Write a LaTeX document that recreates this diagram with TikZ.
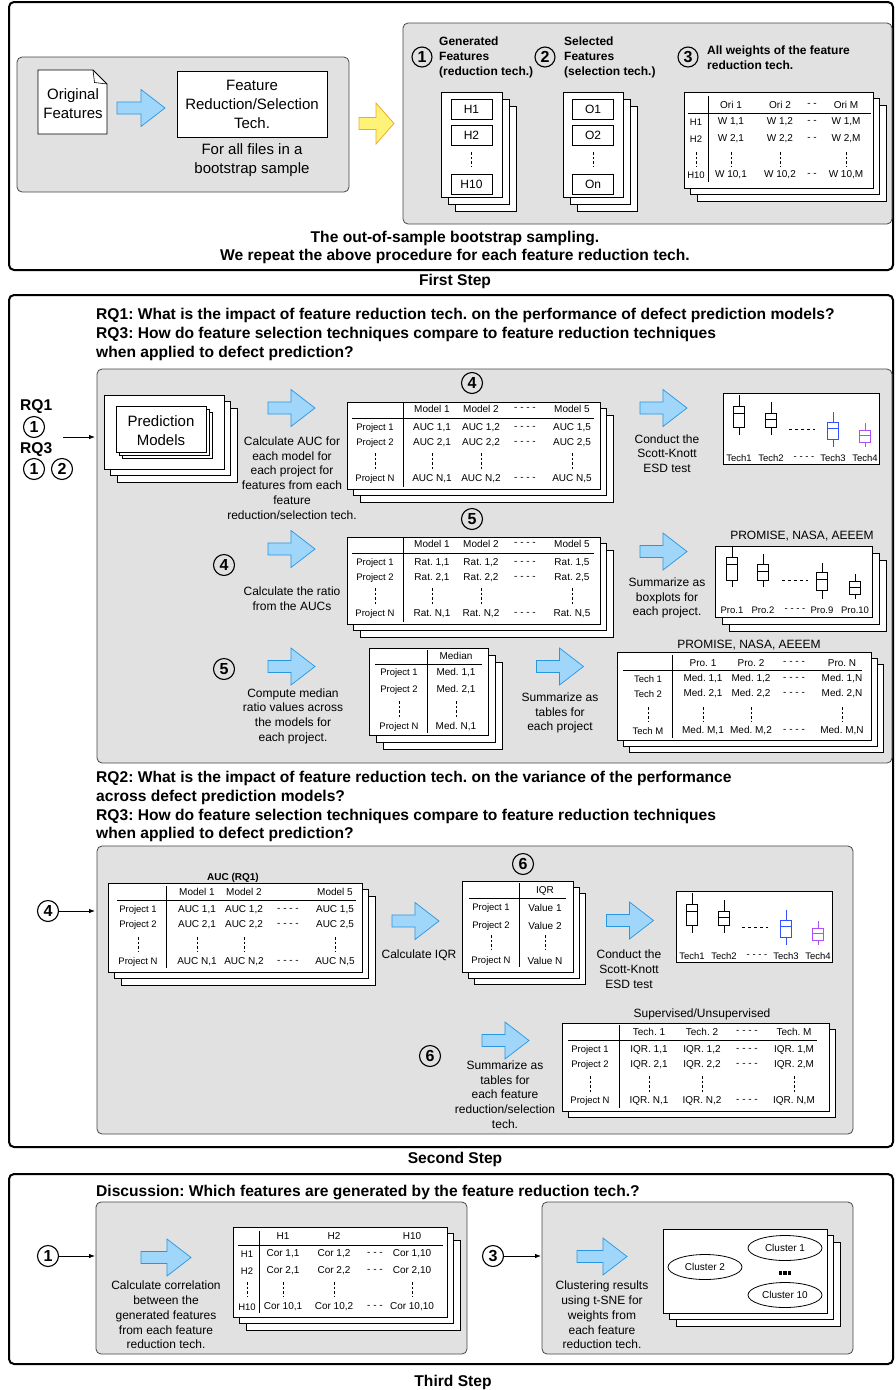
\documentclass[tikz,border=0pt]{standalone}
\usepackage{fontspec}
\setmainfont{Liberation Sans}
\frenchspacing
\usetikzlibrary{arrows.meta,shapes.geometric}
\definecolor{bfill}{RGB}{160,214,250}
\definecolor{bdraw}{RGB}{40,150,225}
\definecolor{yfill}{RGB}{255,242,120}
\definecolor{ydraw}{RGB}{240,170,40}
\definecolor{panel}{RGB}{225,225,225}
\definecolor{pborder}{RGB}{70,70,70}
\definecolor{techblue}{RGB}{50,80,255}
\definecolor{techpurple}{RGB}{175,80,245}
\tikzset{
 outer/.style={draw=black, line width=2pt, rounded corners=5pt},
 panelbox/.style={draw=pborder, fill=panel, line width=0.8pt, rounded corners=5pt},
 wbox/.style={draw=black, fill=white, line width=0.8pt},
 tl/.style={line width=0.8pt},
 vdash/.style={dash pattern=on 2.5pt off 2pt, line width=0.7pt},
 conn/.style={-{Latex[length=6pt,width=4.5pt]}, line width=0.8pt},
 f15/.style={font=\fontsize{15}{19}\selectfont, align=center, inner sep=0pt},
 f12/.style={font=\fontsize{12}{14.7}\selectfont, align=center, inner sep=0pt},
 tt/.style={font=\fontsize{10}{12}\selectfont, inner sep=0pt},
 ts/.style={font=\fontsize{9.5}{11}\selectfont, inner sep=0pt},
 hb/.style={font=\bfseries\fontsize{15.6}{19}\selectfont, inner sep=0pt},
 hbs/.style={font=\bfseries\fontsize{12}{15}\selectfont, inner sep=0pt, align=left},
 circ/.style={circle, draw=black, line width=1.1pt, minimum size=21pt, inner sep=0pt, font=\bfseries\fontsize{16}{16}\selectfont},
 clus/.style={ellipse, draw=black, fill=white, line width=0.8pt, minimum width=74pt, minimum height=25pt, inner sep=0pt, font=\fontsize{10}{12}\selectfont},
}
\newcommand\stackthree[5]{%
 \draw[wbox] (#1+2*#5,#2+2*#5) rectangle (#3+2*#5,#4+2*#5);
 \draw[wbox] (#1+#5,#2+#5) rectangle (#3+#5,#4+#5);
 \draw[wbox] (#1,#2) rectangle (#3,#4);}
\newcommand\stacktwo[5]{%
 \draw[wbox] (#1+#5,#2+#5) rectangle (#3+#5,#4+#5);
 \draw[wbox] (#1,#2) rectangle (#3,#4);}
\newcommand\barrow[3]{%
 \draw[draw=bdraw, fill=bfill, line width=0.7pt, line join=miter]
 (#1-#3/2,#2-6) -- (#1+#3/2-24,#2-6) -- (#1+#3/2-24,#2-18.5) -- (#1+#3/2,#2)
 -- (#1+#3/2-24,#2+18.5) -- (#1+#3/2-24,#2+6) -- (#1-#3/2,#2+6) -- cycle;}
\newcommand\setcols[5]{\def\cL{#1}\def\cA{#2}\def\cB{#3}\def\cD{#4}\def\cC{#5}}
\newcommand\trow[7]{%
 \node[ts] (#1l) at (\cL,#2) {#3};
 \node[tt] (#1a) at (\cA,#2) {#4};
 \node[tt] (#1b) at (\cB,#2) {#5};
 \node[tt] (#1d) at (\cD,#2) {#6};
 \node[tt] (#1c) at (\cC,#2) {#7};}
\newcommand\thead[6]{%
 \node[tt] (#1a) at (\cA,#2) {#3};
 \node[tt] (#1b) at (\cB,#2) {#4};
 \node[tt] (#1d) at (\cD,#2) {#5};
 \node[tt] (#1c) at (\cC,#2) {#6};}
\newcommand\tdots[2]{%
 \draw[vdash] (\cL,#1) -- (\cL,#2);
 \draw[vdash] (\cA,#1) -- (\cA,#2);
 \draw[vdash] (\cB,#1) -- (\cB,#2);
 \draw[vdash] (\cC,#1) -- (\cC,#2);}
\newcommand\bxp[7]{%
 \draw[draw=#7, line width=0.8pt] (#1,#2) -- (#1,#3) (#1,#5) -- (#1,#6)
 (#1-5.5,#3) rectangle (#1+5.5,#5) (#1-5.5,#4) -- (#1+5.5,#4);}
\newcommand\techgroup[1]{%
 \draw[wbox] (723,393) rectangle (879,464);
 \bxp{739}{395}{406}{413}{427}{435}{black}
 \bxp{771}{402}{413}{419}{427}{435}{black}
 \draw[dash pattern=on 3pt off 3pt, line width=0.7pt] (789,429) -- (815,429);
 \bxp{833}{412}{422}{428}{439}{447}{techblue}
 \bxp{865}{423}{430}{435}{442}{447}{techpurple}
 \node[ts] (#1a) at (739,458) {Tech1};
 \node[ts] (#1b) at (771,458) {Tech2};
 \node[ts] (#1d) at (804,458) {- - - -};
 \node[ts] (#1c) at (833,458) {Tech3};
 \node[ts] (#1e) at (865,458) {Tech4};}
\begin{document}
\begin{tikzpicture}[x=1pt,y=-1pt]
\useasboundingbox (0,0) rectangle (895,1390);

% ================= FIRST STEP =================
\draw[outer] (9,2) rectangle (893,270);
\draw[panelbox] (17,57) rectangle (349,192);
\draw[wbox] (38,70) -- (93,70) -- (107,84) -- (107,134) -- (38,134) -- cycle;
\draw[line width=0.6pt] (93,70) -- (94.5,82.5) -- (107,84);
\node[f15] (orig) at (73,103.5) {Original\\Features};
\barrow{141}{108}{48}
\node[wbox,f15,minimum width=150pt,minimum height=66pt] (frs) at (252,104) {Feature\\Reduction/Selection\\Tech.};
\node[f15] (boot) at (252,160.5) {For all files in a\\bootstrap sample};
\draw[draw=ydraw, fill=yfill, line width=0.8pt] (359,117.5) -- (376,117.5) -- (376,103) -- (394,123.5) -- (376,144) -- (376,129.5) -- (359,129.5) -- cycle;

\draw[panelbox] (403,23) rectangle (892,224);
\node[circ, minimum size=20pt] (n1) at (422,57) {1};
\node[circ, minimum size=20pt] (n2) at (545,57) {2};
\node[circ, minimum size=20pt] (n3) at (688,57) {3};
\node[hbs, anchor=west] (gen) at (439,57.5) {Generated\\Features\\(reduction tech.)};
\node[hbs, anchor=west] (sel) at (564,57.5) {Selected\\Features\\(selection tech.)};
\node[hbs, anchor=west] (allw) at (707,57.5) {All weights of the feature\\reduction tech.};

\stackthree{441}{92}{502}{197}{7}
\node[wbox, minimum width=41pt, minimum height=20pt, font=\fontsize{12}{14}\selectfont] (h1) at (471.5,109.5) {H1};
\node[wbox, minimum width=41pt, minimum height=20pt, font=\fontsize{12}{14}\selectfont] (h2) at (471.5,135) {H2};
\node[wbox, minimum width=41pt, minimum height=20pt, font=\fontsize{12}{14}\selectfont] (h10) at (471.5,184) {H10};
\draw[vdash, shorten <=7pt, shorten >=7pt] (h2.south) -- (h10.north);

\stackthree{563}{92}{623}{197}{7}
\node[wbox, minimum width=41pt, minimum height=20pt, font=\fontsize{12}{14}\selectfont] (o1) at (593,109.5) {O1};
\node[wbox, minimum width=41pt, minimum height=20pt, font=\fontsize{12}{14}\selectfont] (o2) at (593,135) {O2};
\node[wbox, minimum width=41pt, minimum height=20pt, font=\fontsize{12}{14}\selectfont] (on) at (593,184) {On};
\draw[vdash, shorten <=7pt, shorten >=7pt] (o2.south) -- (on.north);

\stackthree{684}{92}{873}{188}{6.5}
\draw[tl] (688,113) -- (871,113);
\draw[tl] (708,96) -- (708,182);
\setcols{696}{731}{780}{812}{846}
\thead{wh}{105}{Ori 1}{Ori 2}{- -}{Ori M}
\trow{wr1}{122}{H1}{W 1,1}{W 1,2}{- -}{W 1,M}
\trow{wr2}{139}{H2}{W 2,1}{W 2,2}{- -}{W 2,M}
\tdots{152}{167}
\trow{wrn}{175}{H10}{W 10,1}{W 10,2}{- -}{W 10,M}

\node[hb] (s1a) at (455,238) {The out-of-sample bootstrap sampling.};
\node[hb] (s1b) at (455,256) {We repeat the above procedure for each feature reduction tech.};
\node[hb] (first) at (455,281) {First Step};

% ================= SECOND STEP =================
\draw[outer] (9,295) rectangle (893,1147);
\node[hb, anchor=west] (rq1) at (96,315) {RQ1: What is the impact of feature reduction tech. on the performance of defect prediction models?};
\node[hb, anchor=west] (rq3a) at (96,334) {RQ3: How do feature selection techniques compare to feature reduction techniques};
\node[hb, anchor=west] (rq3b) at (96,353) {when applied to defect prediction?};

\draw[panelbox] (97,369) rectangle (892,763);
\node[hb, anchor=west] (lrq1) at (20,407) {RQ1};
\node[circ] (c1a) at (34,427) {1};
\node[hb, anchor=west] (lrq3) at (20,450) {RQ3};
\node[circ] (c1b) at (34,469) {1};
\node[circ] (c2b) at (62,469) {2};
\coordinate (rqs) at (63,437);
\coordinate (rqe) at (95,437);
\draw[conn] (rqs) -- (rqe);

\stackthree{104}{395}{224}{469}{6.5}
\stackthree{116}{406}{206}{452}{3}
\node[f15] (pm) at (161,430.5) {Prediction\\Models};
\barrow{291.5}{408}{47}
\node[f12] (calcauc) at (292,478) {Calculate AUC for\\each model for\\each project for\\features from each\\feature\\reduction/selection tech.};

\node[circ] (c4) at (472,383) {4};
\stackthree{347}{402}{600}{489}{6.5}
\draw[tl] (352,418) -- (594,418);
\draw[tl] (403,402) -- (403,487);
\setcols{375}{432}{481}{525}{572}
\thead{t4h}{409}{Model 1}{Model 2}{- - - -}{Model 5}
\trow{t4a}{428}{Project 1}{AUC 1,1}{AUC 1,2}{- - - -}{AUC 1,5}
\trow{t4b}{443}{Project 2}{AUC 2,1}{AUC 2,2}{- - - -}{AUC 2,5}
\tdots{453}{470}
\trow{t4n}{479}{Project N}{AUC N,1}{AUC N,2}{- - - -}{AUC N,5}

\barrow{663.5}{408}{47}
\node[f12] (sk1) at (667,453.5) {Conduct the\\Scott-Knott\\ESD test};
\techgroup{ta}

% row 5
\node[circ] (c5) at (472,519) {5};
\node[circ] (c4b) at (224,565) {4};
\barrow{291.5}{549}{47}
\node[f12] (ratio) at (292,598.5) {Calculate the ratio\\from the AUCs};
\stackthree{347}{537}{600}{624}{6.5}
\draw[tl] (352,553) -- (594,553);
\draw[tl] (403,537) -- (403,622);
\thead{t5h}{544}{Model 1}{Model 2}{- - - -}{Model 5}
\trow{t5a}{563}{Project 1}{Rat. 1,1}{Rat. 1,2}{- - - -}{Rat. 1,5}
\trow{t5b}{578}{Project 2}{Rat. 2,1}{Rat. 2,2}{- - - -}{Rat. 2,5}
\tdots{588}{605}
\trow{t5n}{614}{Project N}{Rat. N,1}{Rat. N,2}{- - - -}{Rat. N,5}

\barrow{663.5}{551.5}{47}
\node[f12] (sumbox) at (667,598) {Summarize as\\boxplots for\\each project.};
\node[f12] (prom1) at (802,536) {PROMISE, NASA, AEEEM};
\stackthree{715}{546}{872}{617}{7}
\bxp{732}{547}{557}{564}{580}{587}{black}
\bxp{763}{554}{564}{571}{580}{587}{black}
\draw[dash pattern=on 3pt off 3pt, line width=0.7pt] (782,580) -- (808,580);
\bxp{822}{563}{572}{579}{590}{599}{black}
\bxp{855}{574}{581}{587}{594}{599}{black}
\node[ts] (p1) at (732,610) {Pro.1};
\node[ts] (p2) at (763,610) {Pro.2};
\node[ts] (pd) at (795,610) {- - - -};
\node[ts] (p9) at (822,610) {Pro.9};
\node[ts] (p10) at (855,610) {Pro.10};

% row 6
\node[circ] (c5b) at (224,669) {5};
\barrow{291.5}{666.5}{47}
\node[f12] (median) at (293,716) {Compute median\\ratio values across\\the models for\\each project.};
\stackthree{369}{648}{488}{735}{7}
\draw[tl] (375,664) -- (482,664);
\draw[tl] (427,650) -- (427,733);
\node[tt] (mh) at (456,656) {Median};
\node[ts] (m1l) at (399,673) {Project 1};
\node[tt] (m1v) at (456,673) {Med. 1,1};
\node[ts] (m2l) at (399,690) {Project 2};
\node[tt] (m2v) at (456,690) {Med. 2,1};
\draw[vdash] (399,701) -- (399,717);
\draw[vdash] (456,701) -- (456,717);
\node[ts] (mnl) at (399,727) {Project N};
\node[tt] (mnv) at (456,727) {Med. N,1};

\barrow{560}{666.5}{47}
\node[f12] (sumtab) at (560,713) {Summarize as\\tables for\\each project};
\node[f12] (prom2) at (749,645) {PROMISE, NASA, AEEEM};
\stackthree{617}{652}{871}{740}{6}
\draw[tl] (623,670) -- (862,670);
\draw[tl] (672,655) -- (672,738);
\setcols{648}{703}{751}{794}{842}
\thead{bgh}{663}{Pro. 1}{Pro. 2}{- - - -}{Pro. N}
\trow{bga}{679}{Tech 1}{Med. 1,1}{Med. 1,2}{- - - -}{Med. 1,N}
\trow{bgb}{694}{Tech 2}{Med. 2,1}{Med. 2,2}{- - - -}{Med. 2,N}
\tdots{707}{722}
\trow{bgn}{731}{Tech M}{Med. M,1}{Med. M,2}{- - - -}{Med. M,N}

% RQ2
\node[hb, anchor=west] (rq2a) at (96,778) {RQ2: What is the impact of feature reduction tech. on the variance of the performance};
\node[hb, anchor=west] (rq2b) at (96,797) {across defect prediction models?};
\node[hb, anchor=west] (rq3c) at (96,816) {RQ3: How do feature selection techniques compare to feature reduction techniques};
\node[hb, anchor=west] (rq3d) at (96,834) {when applied to defect prediction?};

\draw[panelbox] (97,846) rectangle (853,1134);
\node[circ] (c4c) at (48,911) {4};
\coordinate (pb) at (95,911);
\draw[conn] (c4c) -- (pb);

\node[font=\bfseries\fontsize{10}{12}\selectfont, inner sep=0pt] (aucl) at (233,878) {AUC (RQ1)};
\stackthree{108}{883}{362}{972}{6.5}
\draw[tl] (117,900) -- (356,900);
\draw[tl] (166,886) -- (166,968);
\setcols{138}{197}{244}{288}{335}
\node[tt] (tah1) at (197,892) {Model 1};
\node[tt] (tah2) at (244,892) {Model 2};
\node[tt] (tah5) at (335,892) {Model 5};
\trow{taa}{910}{Project 1}{AUC 1,1}{AUC 1,2}{- - - -}{AUC 1,5}
\trow{tab}{925}{Project 2}{AUC 2,1}{AUC 2,2}{- - - -}{AUC 2,5}
\tdots{937}{952}
\trow{tan}{962}{Project N}{AUC N,1}{AUC N,2}{- - - -}{AUC N,5}

\barrow{415.5}{921}{47}
\node[f12] (ciqr) at (419,955) {Calculate IQR};

\node[circ] (c6) at (523,864) {6};
\stackthree{462}{881}{573}{972}{6}
\draw[tl] (469,898) -- (566,898);
\draw[tl] (519,883) -- (519,967);
\node[tt] (iqh) at (545,891) {IQR};
\node[ts] (iq1l) at (491,908) {Project 1};
\node[tt] (iq1v) at (545,908) {Value 1};
\node[ts] (iq2l) at (491,926) {Project 2};
\node[tt] (iq2v) at (545,926) {Value 2};
\draw[vdash] (491,935) -- (491,950);
\draw[vdash] (545,935) -- (545,950);
\node[ts] (iqnl) at (491,961) {Project N};
\node[tt] (iqnv) at (545,961) {Value N};

\barrow{630}{920.5}{47}
\node[f12] (sk2) at (629,969) {Conduct the\\Scott-Knott\\ESD test};
\begin{scope}[shift={(-47,498)}]
\techgroup{tb}
\end{scope}

\node[circ] (c6b) at (430,1056) {6};
\barrow{505.5}{1040.5}{47}
\node[f12] (sumtab2) at (505,1094.5) {Summarize as\\tables for\\each feature\\reduction/selection\\tech.};
\node[f12] (sup) at (702,1014) {Supervised/Unsupervised};
\stacktwo{562}{1023}{829}{1111}{6.5}
\draw[tl] (568,1040) -- (817,1040);
\draw[tl] (619,1025) -- (619,1108);
\setcols{590}{649}{702}{747}{794}
\thead{suh}{1032}{Tech. 1}{Tech. 2}{- - - -}{Tech. M}
\trow{sua}{1050}{Project 1}{IQR. 1,1}{IQR. 1,2}{- - - -}{IQR. 1,M}
\trow{sub}{1065}{Project 2}{IQR. 2,1}{IQR. 2,2}{- - - -}{IQR. 2,M}
\tdots{1076}{1093}
\trow{sun}{1101}{Project N}{IQR. N,1}{IQR. N,2}{- - - -}{IQR. N,M}

\node[hb] (second) at (455,1159) {Second Step};

% ================= THIRD STEP =================
\draw[outer] (9,1174) rectangle (893,1364);
\node[hb, anchor=west] (disc) at (96,1192) {Discussion: Which features are generated by the feature reduction tech.?};
\draw[panelbox] (96,1202) rectangle (467,1354);
\draw[panelbox] (542,1202) rectangle (853,1354);

\node[circ] (c1c) at (48,1256) {1};
\coordinate (pc1) at (95,1256);
\draw[conn] (c1c) -- (pc1);
\barrow{166}{1257.5}{50}
\node[f12] (corr) at (166,1315) {Calculate correlation\\between the\\generated features\\from each feature\\reduction tech.};
\stackthree{233}{1227}{447}{1317}{6.5}
\draw[tl] (238,1245) -- (443,1245);
\draw[tl] (259,1231) -- (259,1313);
\setcols{247}{283}{334}{375}{412}
\node[tt] (tch1) at (283,1236) {H1};
\node[tt] (tch2) at (334,1236) {H2};
\node[tt] (tch10) at (412,1236) {H10};
\trow{tca}{1254}{H1}{Cor 1,1}{Cor 1,2}{- - -}{Cor 1,10}
\trow{tcb}{1271}{H2}{Cor 2,1}{Cor 2,2}{- - -}{Cor 2,10}
\tdots{1282}{1297}
\trow{tcn}{1307}{H10}{Cor 10,1}{Cor 10,2}{- - -}{Cor 10,10}

\node[circ] (c3c) at (493,1256) {3};
\coordinate (pc2) at (541,1256);
\draw[conn] (c3c) -- (pc2);
\barrow{602}{1256.5}{50}
\node[f12] (tsne) at (602,1315) {Clustering results\\using t-SNE for\\weights from\\each feature\\reduction tech.};
\stackthree{663}{1229}{827}{1313}{6.5}
\node[clus] (cl1) at (785,1248) {Cluster 1};
\node[clus] (cl2) at (705,1267) {Cluster 2};
\node[clus] (cl10) at (785,1295) {Cluster 10};
\node[inner sep=0pt] (cldots) at (785,1273) {\rule{3.5pt}{3.5pt}\hspace{1.2pt}\rule{3.5pt}{3.5pt}\hspace{1.2pt}\rule{3.5pt}{3.5pt}};

\node[hb] (third) at (453,1382) {Third Step};
\end{tikzpicture}
\end{document}
